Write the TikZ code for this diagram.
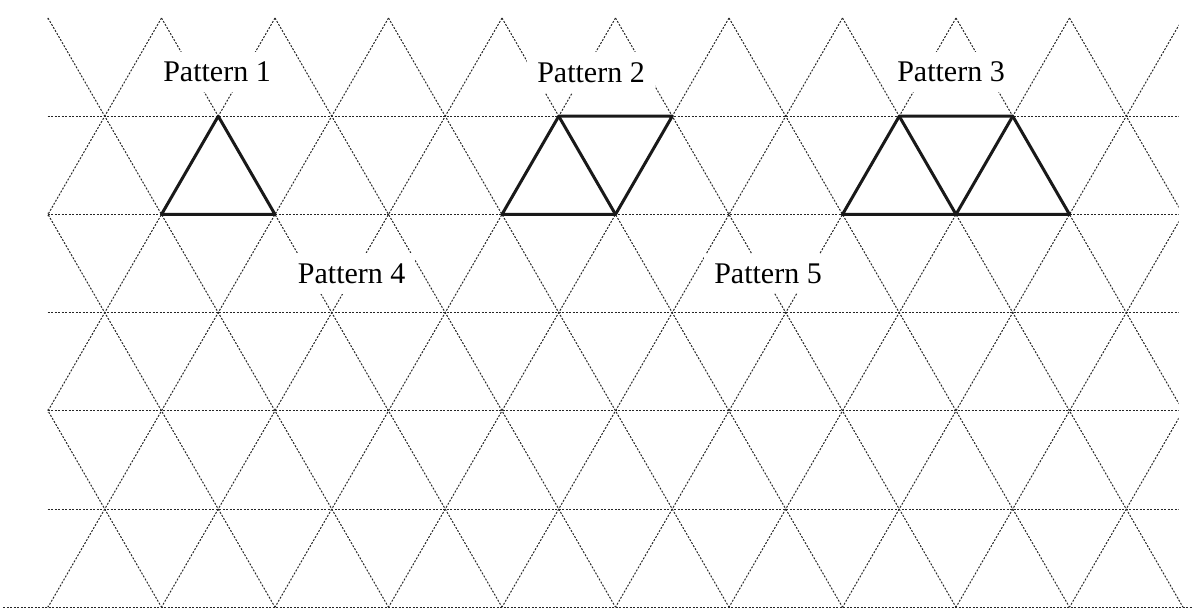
\documentclass[tikz,border=0pt]{standalone}
\usepackage{fontspec}
\setmainfont{Liberation Serif}
\begin{document}
\begin{tikzpicture}[x=1pt,y=-1pt,
  gridline/.style={line width=1pt, black!85, dash pattern=on 2pt off 1.5pt},
  pat/.style={line width=3pt, line join=round, black!90},
  lbl/.style={fill=white, inner sep=10pt, font=\fontsize{30}{36}\selectfont}]
\useasboundingbox (0,0) rectangle (1192,608);
\def\s{113.5}
\def\h{98.2}
% dotted triangular grid
\begin{scope}
  \clip (47.5,17.5) rectangle (1178.5,608);
  \foreach \r in {1,...,5}
    \draw[gridline] (47.5,{18+\r*\h}) -- (1178.5,{18+\r*\h});
  \foreach \k in {-6,...,10}
    \draw[gridline] ({48+\k*\s},18) -- ({48+(\k+3)*\s},{18+6*\h});
  \foreach \k in {0,...,16}
    \draw[gridline] ({48+\k*\s},18) -- ({48+(\k-3)*\s},{18+6*\h});
\end{scope}
% last diagonal running to the bottom right corner
\begin{scope}
  \clip (1178,500) rectangle (1190,608);
  \coordinate (e1) at ({48+7*\s},18);
  \coordinate (e2) at ({48+10*\s},{18+6*\h});
  \draw[gridline] (e1) -- (e2);
\end{scope}
\coordinate (bl) at (3,{18+6*\h});
\coordinate (br) at (1192,{18+6*\h});
\draw[gridline] (bl) -- (br);
% pattern 1
\coordinate (a1) at ({48+1*\s},{18+2*\h});
\coordinate (a2) at ({104.75+1*\s},{18+1*\h});
\coordinate (a3) at ({48+2*\s},{18+2*\h});
\draw[pat] (a1) -- (a2) -- (a3) -- cycle;
% pattern 2
\coordinate (b1) at ({48+4*\s},{18+2*\h});
\coordinate (b2) at ({104.75+4*\s},{18+1*\h});
\coordinate (b3) at ({48+5*\s},{18+2*\h});
\coordinate (b4) at ({104.75+5*\s},{18+1*\h});
\draw[pat] (b1) -- (b2) -- (b4) -- (b3) -- cycle;
\draw[pat] (b2) -- (b3);
% pattern 3
\coordinate (c1) at ({48+7*\s},{18+2*\h});
\coordinate (c2) at ({104.75+7*\s},{18+1*\h});
\coordinate (c3) at ({48+8*\s},{18+2*\h});
\coordinate (c4) at ({104.75+8*\s},{18+1*\h});
\coordinate (c5) at ({48+9*\s},{18+2*\h});
\draw[pat] (c1) -- (c2) -- (c4) -- (c5) -- cycle;
\draw[pat] (c2) -- (c3) -- (c4);
% labels
\node[lbl] (p1) at (217,71.8) {Pattern 1};
\node[lbl] (p2) at (591,72.5) {Pattern 2};
\node[lbl] (p3) at (951,72) {Pattern 3};
\node[lbl] (p4) at (351.7,273.5) {Pattern 4};
\node[lbl] (p5) at (768,273.5) {Pattern 5};
\end{tikzpicture}
\end{document}
